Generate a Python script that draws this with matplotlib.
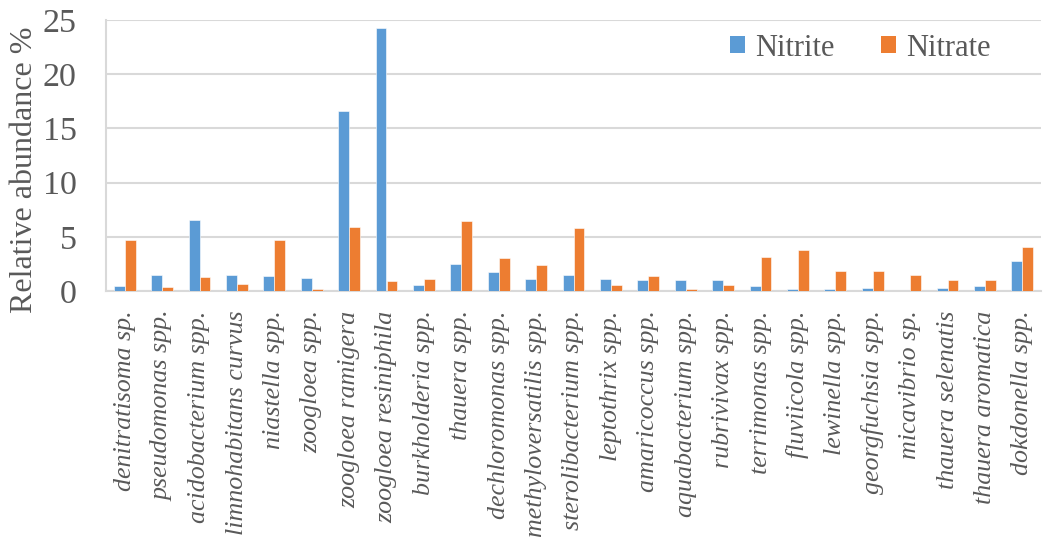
import numpy as np
import matplotlib
matplotlib.use("Agg")
import matplotlib.pyplot as plt
from matplotlib.patches import Patch

categories = [
    "denitratisoma sp.", "pseudomonas spp.", "acidobacterium spp.",
    "limnohabitans curvus", "niastella spp.", "zoogloea spp.",
    "zoogloea ramigera", "zoogloea resiniphila", "burkholderia spp.",
    "thauera spp.", "dechloromonas spp.", "methyloversatilis spp.",
    "sterolibacterium spp.", "leptothrix spp.", "amaricoccus spp.",
    "aquabacterium spp.", "rubrivivax spp.", "terrimonas spp.",
    "fluviicola spp.", "lewinella spp.", "georgfuchsia spp.",
    "micavibrio sp.", "thauera selenatis", "thauera aromatica",
    "dokdonella spp.",
]
nitrite = [0.48, 1.50, 6.57, 1.43, 1.40, 1.22, 16.6, 24.25, 0.57, 2.50,
           1.77, 1.09, 1.52, 1.13, 1.06, 0.97, 0.97, 0.48, 0.14, 0.14,
           0.26, 0.02, 0.32, 0.44, 2.81]
nitrate = [4.75, 0.39, 1.27, 0.66, 4.72, 0.17, 5.95, 0.94, 1.13, 6.47,
           3.03, 2.38, 5.77, 0.57, 1.40, 0.23, 0.57, 3.12, 3.80, 1.86,
           1.80, 1.46, 1.00, 1.00, 4.10]
yticks = [0, 5, 10, 15, 20, 25]

plt.rcParams["font.family"] = ["Liberation Serif", "DejaVu Serif"]
text_color = "#595959"
grid_color = "#d9d9d9"
blue = "#5B9BD5"
orange = "#ED7D31"

fig = plt.figure(figsize=(10.46, 5.42), dpi=100)
ax = fig.add_axes([106 / 1046, 1 - 291 / 542, 935 / 1046, 271 / 542])

x = np.arange(len(categories))
w = 0.294
ax.bar(x - w / 2, nitrite, width=w, color=blue, edgecolor="white",
       linewidth=0.4, zorder=3, label="Nitrite")
ax.bar(x + w / 2, nitrate, width=w, color=orange, edgecolor="white",
       linewidth=0.4, zorder=3, label="Nitrate")

ax.set_xlim(-0.5, len(categories) - 0.5)
ax.set_ylim(0, 25)
ax.set_yticks(yticks)
ax.yaxis.grid(True, color=grid_color, linewidth=1.5, zorder=0)
ax.set_axisbelow(True)

for s in ["top", "right"]:
    ax.spines[s].set_visible(False)
for s in ["left", "bottom"]:
    ax.spines[s].set_color(grid_color)
    ax.spines[s].set_linewidth(1.5)

ax.set_xticks(x)
ax.set_xticklabels(categories, rotation=90, fontstyle="italic",
                   fontsize=18.7, color=text_color)
ax.tick_params(axis="x", length=0, pad=14)
ax.tick_params(axis="y", length=0, pad=21, labelsize=24.5,
               labelcolor=text_color)

ax.set_ylabel("Relative abundance %", fontsize=23, color=text_color)
ax.yaxis.set_label_coords(39 / 1046, 1 - 170 / 542, transform=fig.transFigure)

handles = [Patch(facecolor=blue, edgecolor="none", label="Nitrite"),
           Patch(facecolor=orange, edgecolor="none", label="Nitrate")]
fig.legend(handles=handles, loc="center left",
           bbox_to_anchor=(730 / 1046, 1 - 48 / 542), ncol=2, frameon=False,
           fontsize=22, handlelength=0.5, handleheight=0.5,
           handletextpad=0.33, columnspacing=1.5, borderpad=0,
           borderaxespad=0, labelcolor=text_color)

fig.savefig("out.png", dpi=100)
